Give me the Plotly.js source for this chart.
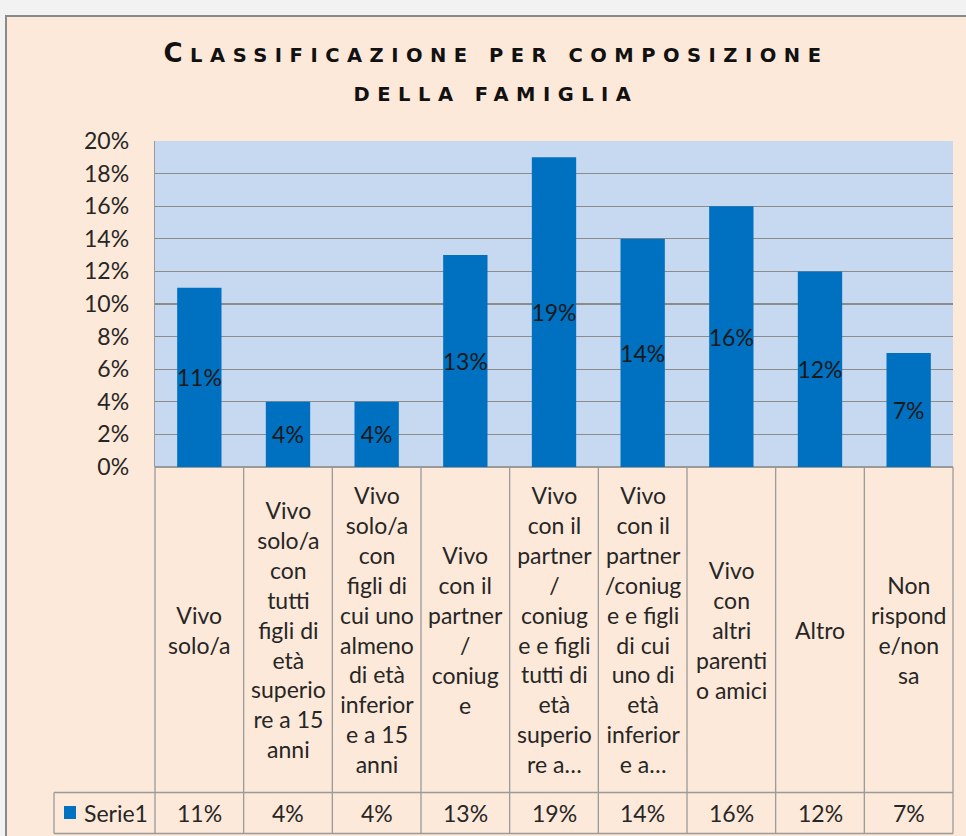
<!DOCTYPE html>
<html>
<head>
<meta charset="utf-8">
<script src="https://cdn.plot.ly/plotly-3.0.1.min.js"></script>
<style>
  html, body { margin: 0; padding: 0; background: #f2f2f2; width: 966px; height: 836px; overflow: hidden; }
  #frame { position: absolute; left: 5px; top: 15px; border-top: 2px solid #8a8a8a; border-left: 2px solid #8a8a8a; }
</style>
</head>
<body>
<div id="frame"><div id="chart"></div></div>
<script>
// ---- data ----
const categories = [
  "Vivo solo/a",
  "Vivo solo/a con tutti figli di età superiore a 15 anni",
  "Vivo solo/a con figli di cui uno almeno di età inferiore a 15 anni",
  "Vivo con il partner / coniuge",
  "Vivo con il partner / coniuge e figli tutti di età superiore a 15 anni",
  "Vivo con il partner /coniuge e figli di cui uno di età inferiore a 15 anni",
  "Vivo con altri parenti o amici",
  "Altro",
  "Non risponde/non sa"
];
// labels as shown (wrapped / truncated) in the data table
const tableLabels = [
  ["Vivo", "solo/a"],
  ["Vivo", "solo/a", "con", "tutti", "figli di", "età", "superio", "re a 15", "anni"],
  ["Vivo", "solo/a", "con", "figli di", "cui uno", "almeno", "di età", "inferior", "e a 15", "anni"],
  ["Vivo", "con il", "partner", "/", "coniug", "e"],
  ["Vivo", "con il", "partner", "/", "coniug", "e e figli", "tutti di", "età", "superio", "re a…"],
  ["Vivo", "con il", "partner", "/coniug", "e e figli", "di cui", "uno di", "età", "inferior", "e a…"],
  ["Vivo", "con", "altri", "parenti", "o amici"],
  ["Altro"],
  ["Non", "rispond", "e/non", "sa"]
];
const seriesName = "Serie1";
const values = [0.11, 0.04, 0.04, 0.13, 0.19, 0.14, 0.16, 0.12, 0.07];
const titleLine1 = ["C", "LASSIFICAZIONE PER COMPOSIZIONE"];
const titleLine2 = "DELLA FAMIGLIA";

// ---- layout geometry (pixels inside the chart box) ----
const W = 959, H = 819;
const M = { l: 148, r: 13, t: 124, b: 369 };
const plotH = H - M.t - M.b, plotW = W - M.l - M.r;
const py = p => (H - M.b - p) / plotH;      // pixel row -> paper y
const px = p => (p - M.l) / plotW;          // pixel col -> paper x
const rowSplit = 775.5, tableBottom = 816.5, legendLeft = 47;

const font = "Lato, 'Open Sans', sans-serif";
const txtColor = "#262626";
const lineColor = "#9a9a9a";

const shapes = [];
// vertical table lines at category boundaries
for (let k = 0; k <= categories.length; k++) {
  const xp = k / categories.length;
  shapes.push({ type: "line", xref: "paper", yref: "paper", x0: xp, x1: xp, y0: 0, y1: py(tableBottom),
    line: { color: lineColor, width: 1.3 }, layer: "above" });
}
// horizontal lines of the value row
[rowSplit, tableBottom].forEach(r => shapes.push({ type: "line", xref: "paper", yref: "paper",
  x0: px(legendLeft), x1: 1, y0: py(r), y1: py(r), line: { color: lineColor, width: 1.3 }, layer: "above" }));
// left border of legend cell
shapes.push({ type: "line", xref: "paper", yref: "paper", x0: px(legendLeft), x1: px(legendLeft),
  y0: py(rowSplit), y1: py(tableBottom), line: { color: lineColor, width: 1.3 }, layer: "above" });
// legend key
shapes.push({ type: "rect", xref: "paper", yref: "paper", x0: px(57), x1: px(69), y0: py(802), y1: py(789),
  fillcolor: "#0070c0", line: { width: 0 }, layer: "above" });

const annotations = [];
categories.forEach((c, i) => {
  annotations.push({ xref: "x", yref: "paper", x: c, y: py((H - M.b + rowSplit) / 2),
    text: tableLabels[i].join("<br>"), showarrow: false, xanchor: "center", yanchor: "middle", align: "center",
    font: { family: font, size: 23, color: txtColor } });
  annotations.push({ xref: "x", yref: "paper", x: c, y: py((rowSplit + tableBottom) / 2),
    text: Math.round(values[i] * 100) + "%", showarrow: false, xanchor: "center", yanchor: "middle",
    font: { family: font, size: 23, color: txtColor } });
});
annotations.push({ xref: "paper", yref: "paper", x: px(75), y: py((rowSplit + tableBottom) / 2),
  text: seriesName, showarrow: false, xanchor: "left", yanchor: "middle",
  font: { family: font, size: 23, color: txtColor } });

const ls = "letter-spacing:7.5px";
const titleText =
  `<span style="font-size:26px;${ls}">${titleLine1[0]}</span><span style="font-size:19.5px;${ls}">${titleLine1[1]}</span>` +
  `<br><span style="font-size:19.5px;${ls}">${titleLine2}</span>`;

const trace = {
  type: "bar", x: categories, y: values, name: seriesName,
  marker: { color: "#0070c0", line: { width: 0 } },
  texttemplate: "%{y:.0%}", textposition: "inside", insidetextanchor: "middle",
  textangle: 0, constraintext: "none",
  textfont: { family: font, size: 23, color: "#1a1a1a" },
  hoverinfo: "skip"
};

const layout = {
  width: W, height: H, margin: M,
  paper_bgcolor: "#fde9d9", plot_bgcolor: "#c6d9f1",
  showlegend: false, bargap: 0.5,
  title: { text: titleText, font: { family: "'DejaVu Sans', sans-serif", size: 30, color: "#111", weight: "bold" },
    xref: "container", x: 489 / W, xanchor: "center", yref: "container", y: 1 - 45 / H, yanchor: "top" },
  xaxis: { type: "category", range: [-0.5, categories.length - 0.5], showticklabels: false, ticks: "",
    showgrid: false, zeroline: false, showline: false, fixedrange: true },
  yaxis: { range: [0, 0.2], dtick: 0.02, tickformat: ".0%", showgrid: true, gridcolor: "#8c8c8c", gridwidth: 1.2,
    zeroline: true, zerolinecolor: "#9a9a9a", zerolinewidth: 1.3, showline: true, linecolor: "#9a9a9a", linewidth: 1.3,
    ticks: "", ticklabelstandoff: 20, tickfont: { family: font, size: 23, color: "#262626" }, fixedrange: true },
  shapes: shapes, annotations: annotations
};

Plotly.newPlot("chart", [trace], layout, { displayModeBar: false, staticPlot: true });
</script>
</body>
</html>
